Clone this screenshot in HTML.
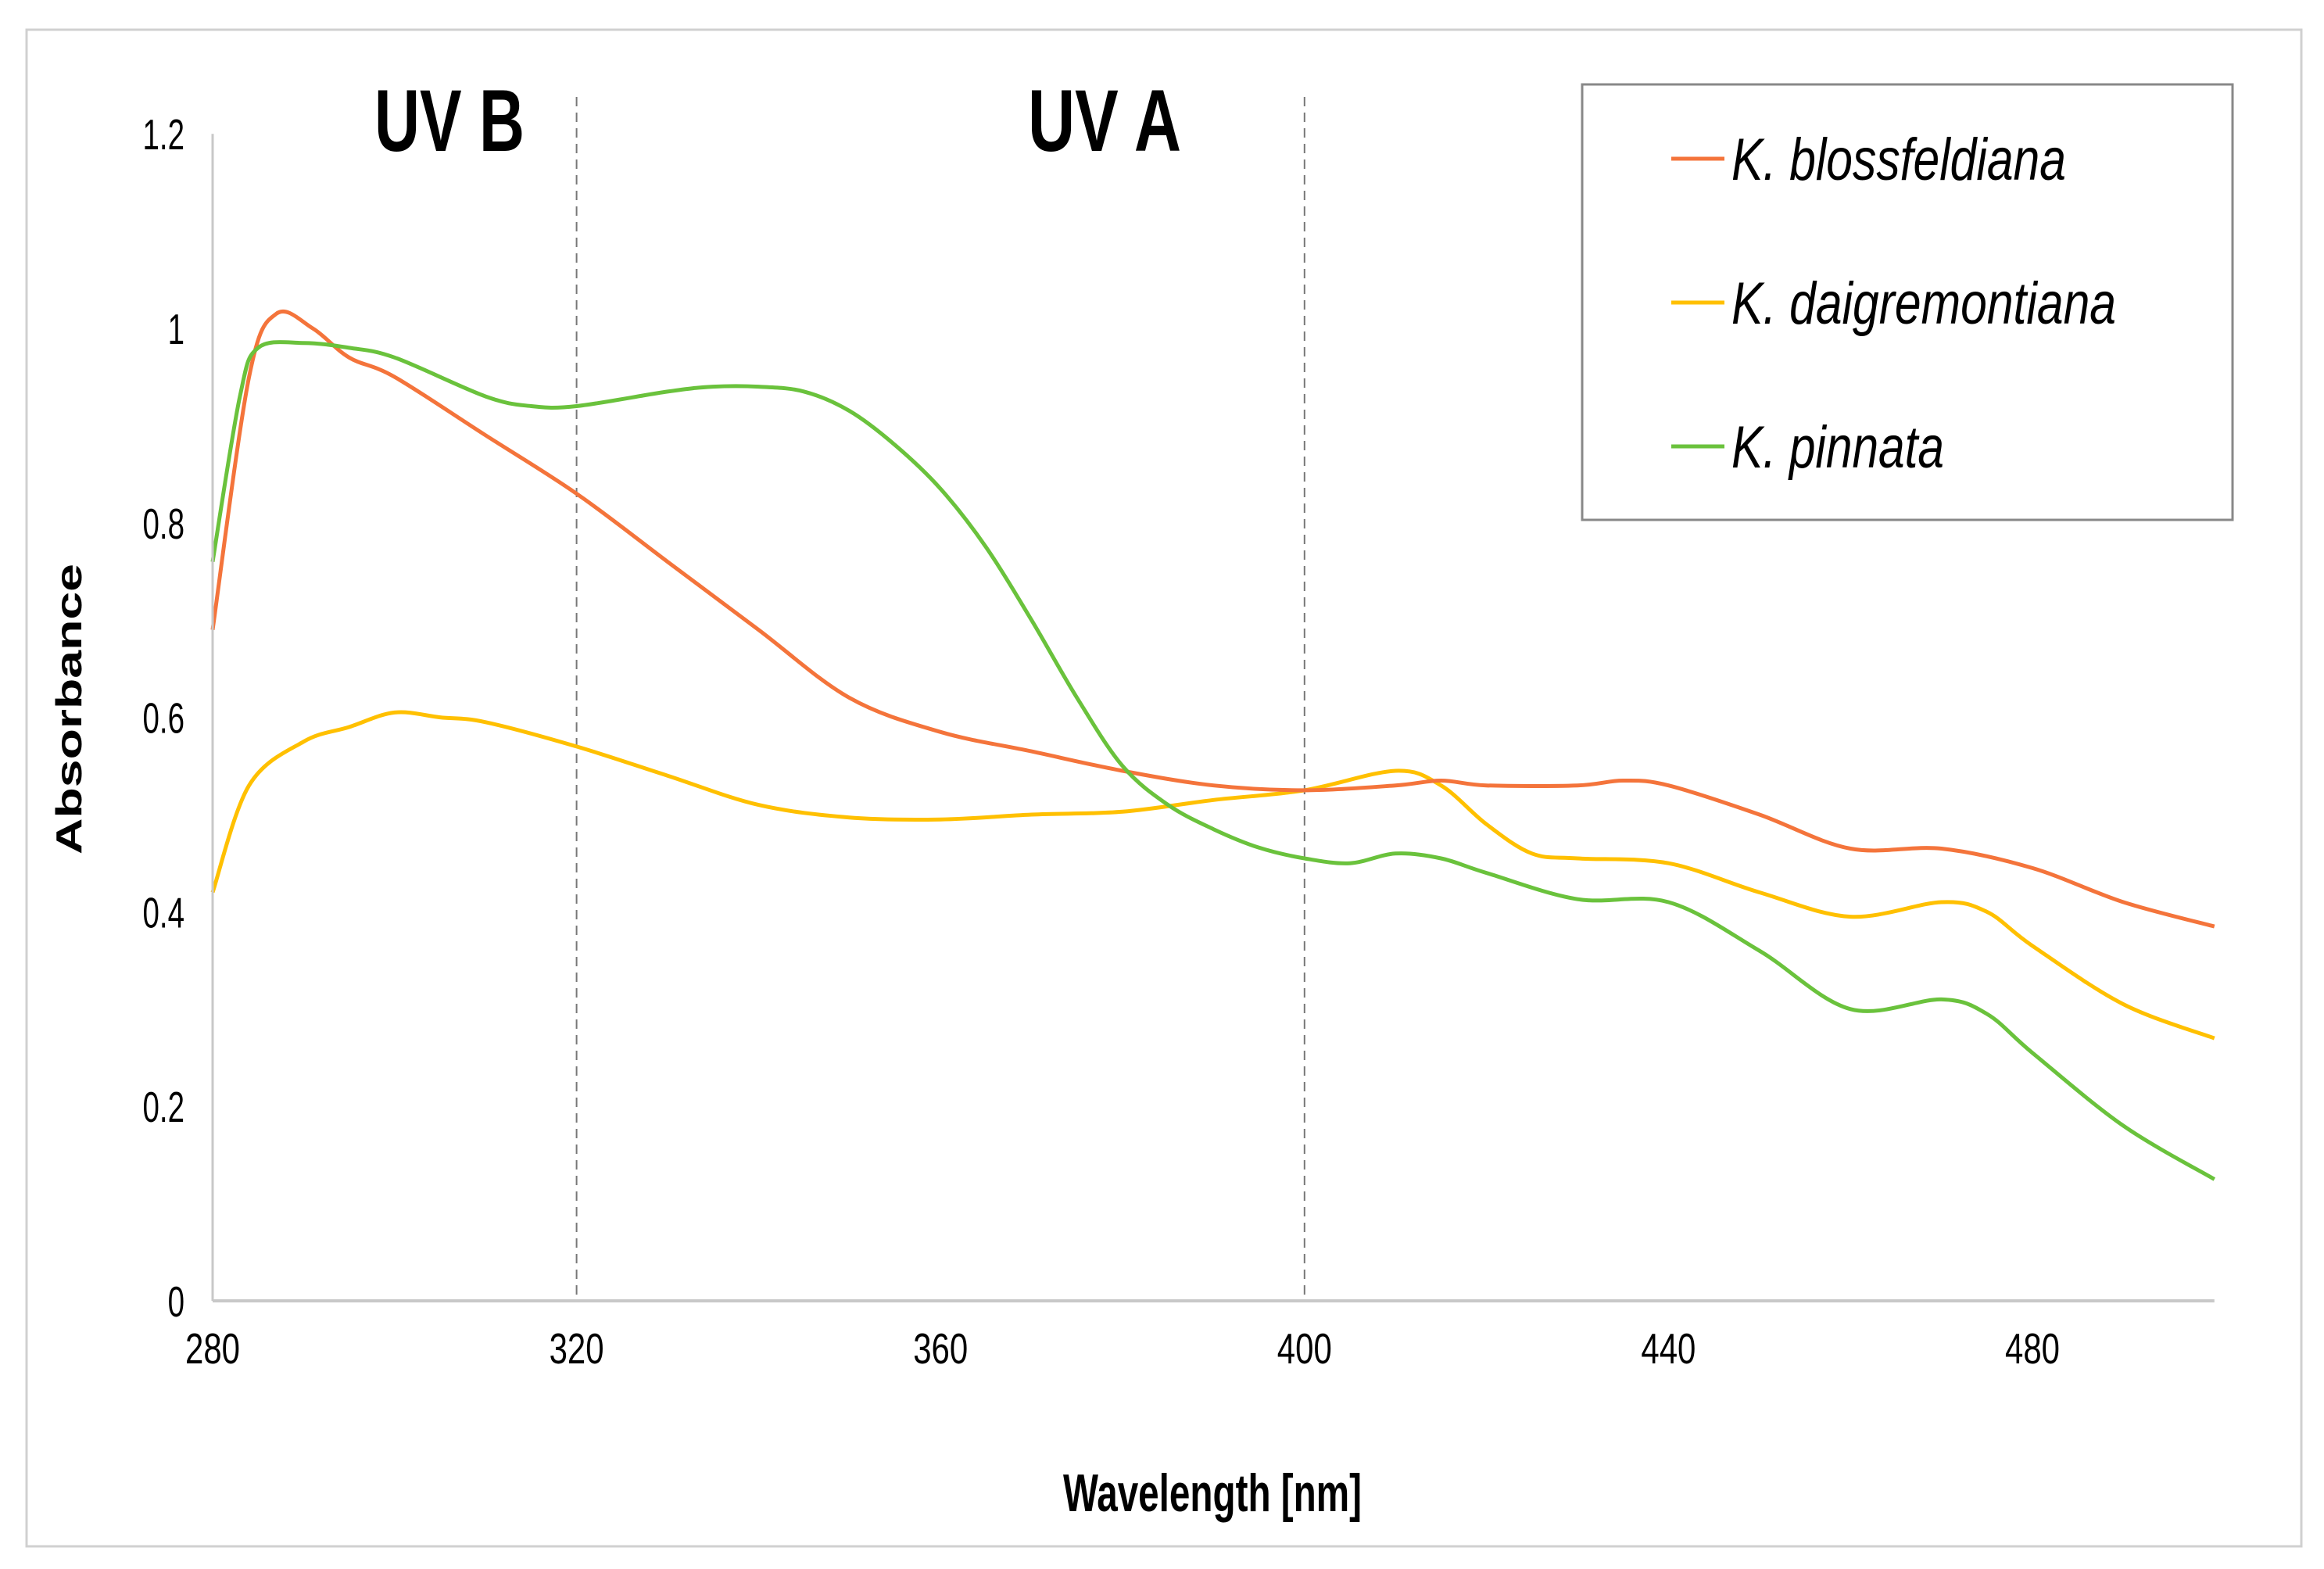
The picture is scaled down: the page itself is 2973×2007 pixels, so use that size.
<!DOCTYPE html>
<html><head><meta charset="utf-8"><style>
html,body{margin:0;padding:0;background:#fff;}
svg{display:block;}
text{font-family:"Liberation Sans Narrow","Liberation Sans",sans-serif;}
</style></head><body>
<svg id="chart" width="2973" height="2007" viewBox="0 0 2973 2007" xmlns="http://www.w3.org/2000/svg">
<rect x="34" y="38" width="2910" height="1940" fill="#fff" stroke="#d0d0d0" stroke-width="3"/>
<g id="grid"></g>
<g id="series"></g>
<g id="axes"></g>
<text x="575" y="193" font-size="112" font-weight="bold" text-anchor="middle" textLength="192" lengthAdjust="spacingAndGlyphs">UV B</text>
<text x="1413" y="193" font-size="112" font-weight="bold" text-anchor="middle" textLength="196" lengthAdjust="spacingAndGlyphs">UV A</text>
<text transform="translate(104,907) rotate(-90)" font-size="46" font-weight="bold" text-anchor="middle" style="font-family:'Liberation Sans',sans-serif" textLength="372" lengthAdjust="spacingAndGlyphs">Absorbance</text>
<text x="1360" y="1933" font-size="68" font-weight="bold" textLength="382" lengthAdjust="spacingAndGlyphs">Wavelength [nm]</text>
<g>
<rect x="2024" y="108" width="832" height="557" fill="#fff" stroke="#888" stroke-width="3"/>
<line x1="2138" y1="203" x2="2206" y2="203" stroke="#f4743b" stroke-width="5"/>
<text x="2215" y="230" font-size="76" font-style="italic" textLength="428" lengthAdjust="spacingAndGlyphs">K. blossfeldiana</text>
<line x1="2138" y1="387" x2="2206" y2="387" stroke="#ffc000" stroke-width="5"/>
<text x="2215" y="414" font-size="76" font-style="italic" textLength="492" lengthAdjust="spacingAndGlyphs">K. daigremontiana</text>
<line x1="2138" y1="571" x2="2206" y2="571" stroke="#6ac23c" stroke-width="5"/>
<text x="2215" y="598" font-size="76" font-style="italic" textLength="272" lengthAdjust="spacingAndGlyphs">K. pinnata</text>
</g>
</svg>
<script>
const xTicks=[280,320,360,400,440,480];
const yTicks=[0,0.2,0.4,0.6,0.8,1,1.2];
const yTickLabels=["0","0.2","0.4","0.6","0.8","1","1.2"];
const uvBoundaries=[320,400];
const wlBloss=[280,284,287,291,295,300,310,320,330,340,350,360,370,380,390,400,410,415,420,430,435,440,450,460,470,480,490,500];
const absBloss=[0.69,0.95,1.015,1.0,0.97,0.95,0.89,0.83,0.76,0.69,0.62,0.585,0.565,0.545,0.53,0.525,0.53,0.535,0.53,0.53,0.535,0.53,0.5,0.465,0.465,0.445,0.41,0.385];
const wlDaig=[280,284,290,295,300,305,310,320,330,340,350,360,370,380,390,400,410,415,420,425,430,440,450,460,470,475,480,490,500];
const absDaig=[0.42,0.53,0.575,0.59,0.605,0.6,0.595,0.57,0.54,0.51,0.497,0.495,0.5,0.503,0.515,0.525,0.545,0.53,0.49,0.46,0.455,0.45,0.42,0.395,0.41,0.4,0.365,0.305,0.27];
const wlPinn=[280,283,285,290,295,300,310,315,320,330,335,340,345,350,355,360,365,370,375,380,385,390,395,400,405,410,415,420,430,440,450,460,470,475,480,490,500];
const absPinn=[0.76,0.93,0.98,0.985,0.98,0.97,0.93,0.92,0.92,0.935,0.94,0.94,0.935,0.915,0.88,0.835,0.775,0.7,0.62,0.55,0.51,0.485,0.466,0.455,0.45,0.46,0.455,0.44,0.413,0.41,0.36,0.3,0.31,0.295,0.255,0.18,0.125];
</script>
<script>
(function(){
const NS="http://www.w3.org/2000/svg";
const X0=272,XPER=11.64,Y0=1664,YPER=1244;
const xs=v=>X0+(v-280)*XPER;
const ys=v=>Y0-v*YPER;
function mk(tag,attrs,parent){const e=document.createElementNS(NS,tag);for(const k in attrs)e.setAttribute(k,attrs[k]);parent.appendChild(e);return e;}
const grid=document.getElementById('grid'),axes=document.getElementById('axes'),ser=document.getElementById('series');
uvBoundaries.forEach(b=>{
 const l=mk('line',{x1:xs(b),x2:xs(b),y1:124,y2:Y0,stroke:'#777','stroke-width':2,'stroke-dasharray':'12,8'},grid);
 
 
});
const ya=mk('line',{x1:X0,x2:X0,y1:ys(1.2),y2:Y0,stroke:'#c8c8c8','stroke-width':3},axes);


const xa=mk('line',{x1:X0,x2:xs(500),y1:Y0,y2:Y0,stroke:'#c8c8c8','stroke-width':4},axes);


yTicks.forEach((v,i)=>{
 const t=mk('text',{transform:'translate(236,'+(ys(v)+20)+') scale(0.7,1)','font-size':55,'text-anchor':'end'},axes);
 t.textContent=yTickLabels[i];
 
 
});
xTicks.forEach(v=>{
 const t=mk('text',{x:xs(v),y:1744,'font-size':55,'text-anchor':'middle',textLength:70,lengthAdjust:'spacingAndGlyphs'},axes);
 t.textContent=String(v);
 
 
});
function path(wl,ab){
 const p=wl.map((w,i)=>[xs(w),ys(ab[i])]);
 let d='M'+p[0][0].toFixed(1)+','+p[0][1].toFixed(1);
 for(let i=0;i<p.length-1;i++){
  const a=p[i-1]||p[i],b=p[i],c=p[i+1],e=p[i+2]||c;
  const c1=[b[0]+(c[0]-a[0])/6,b[1]+(c[1]-a[1])/6],c2=[c[0]-(e[0]-b[0])/6,c[1]-(e[1]-b[1])/6];
  d+=' C'+c1[0].toFixed(1)+','+c1[1].toFixed(1)+' '+c2[0].toFixed(1)+','+c2[1].toFixed(1)+' '+c[0].toFixed(1)+','+c[1].toFixed(1);
 }
 return d;
}
const s1=mk('path',{d:path(wlDaig,absDaig),fill:'none',stroke:'#ffc000','stroke-width':5},ser);


const s2=mk('path',{d:path(wlBloss,absBloss),fill:'none',stroke:'#f4743b','stroke-width':5},ser);


const s3=mk('path',{d:path(wlPinn,absPinn),fill:'none',stroke:'#6ac23c','stroke-width':5},ser);


})();
</script>
</body></html>
